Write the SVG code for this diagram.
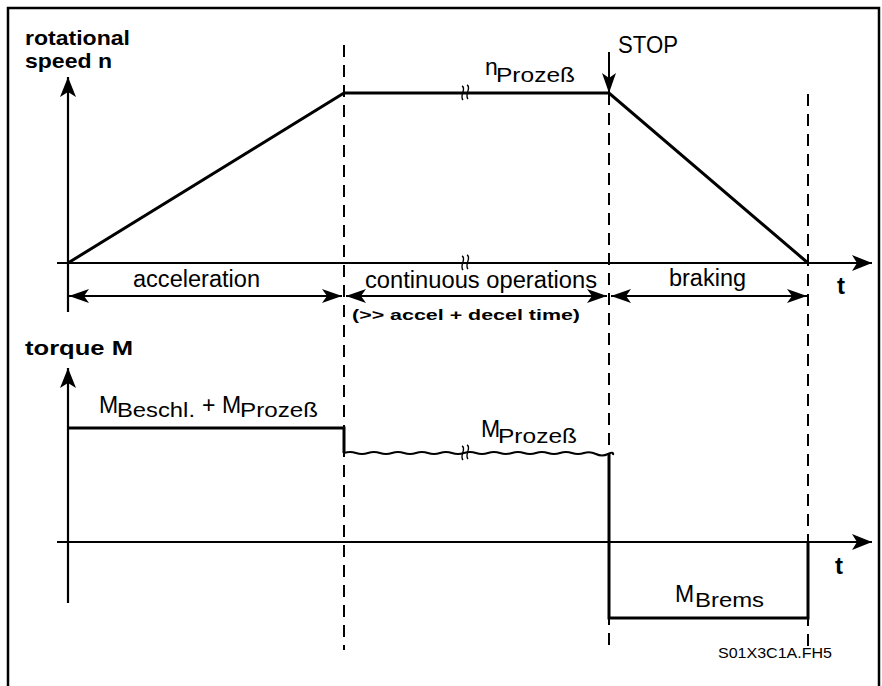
<svg xmlns="http://www.w3.org/2000/svg" width="882" height="686" viewBox="0 0 882 686">
<style>
text{font-family:"Liberation Sans",Arial,Helvetica,sans-serif;fill:#000}
.b{font-weight:bold}
.lbl{font-size:23px}
.sub{font-size:21px}
.ax{stroke:#000;stroke-width:2.2;fill:none}
.crv{stroke:#000;stroke-width:3;fill:none}
.dsh{stroke:#000;stroke-width:2;fill:none;stroke-dasharray:12 8}
.dim{stroke:#000;stroke-width:2;fill:none}
.brk{stroke:#000;stroke-width:1.4;fill:none}
</style>
<defs>
<marker id="ah" markerUnits="userSpaceOnUse" markerWidth="22" markerHeight="18" refX="20" refY="8" orient="auto-start-reverse">
<path d="M0,0 L20,8 L0,16 L5,8 z" fill="#000"/>
</marker>
<marker id="dh" markerUnits="userSpaceOnUse" markerWidth="22" markerHeight="16" refX="20" refY="7" orient="auto-start-reverse">
<path d="M0,0 L20,7 L0,14 L5,7 z" fill="#000"/>
</marker>
</defs>
<rect x="8" y="8" width="871" height="700" fill="#fff" stroke="#000" stroke-width="2.5"/>

<g id="grid">
<path class="dsh" d="M344,45 V650"/>
<path class="dsh" d="M609,93 V650"/>
<path class="dsh" d="M808,94 V650"/>
</g>

<g id="connectors">
<line class="ax" x1="68" y1="312" x2="68" y2="77" marker-end="url(#ah)"/>
<line class="ax" x1="57" y1="263" x2="872" y2="263" marker-end="url(#ah)"/>
<line class="ax" x1="68" y1="603" x2="68" y2="368" marker-end="url(#ah)"/>
<line class="ax" x1="57" y1="542" x2="872" y2="542" marker-end="url(#ah)"/>
<path class="crv" d="M68,263 L344,93 L609,93 L808,263" stroke-width="2.6"/>
<line class="dim" x1="609" y1="52" x2="609" y2="93" marker-end="url(#dh)"/>
<line class="dim" x1="69" y1="296" x2="342" y2="296" marker-start="url(#dh)" marker-end="url(#dh)"/>
<line class="dim" x1="346" y1="296" x2="607" y2="296" marker-start="url(#dh)" marker-end="url(#dh)"/>
<line class="dim" x1="611" y1="296" x2="807" y2="296" marker-start="url(#dh)" marker-end="url(#dh)"/>
<path class="crv" d="M68,428 L344,428 L344,453"/>
<path d="M344,453 q6,-2 12,0 t12,0 t12,0 t12,0 t12,0 t12,0 t12,0 t12,0 t12,0 t12,0 t12,0 t12,0 t12,0 t12,0 t12,0 t12,0 t12,0 t12,0 t12,0 t12,0 t12,1 t12,0 t5,1" stroke="#000" stroke-width="2" fill="none"/>
<path class="crv" d="M609,454 L609,618 L808,618 L808,542"/>
<path class="brk" d="M462,86 c5,2 -3,10 1,14 M467,85 c5,2 -3,10 1,14"/>
<path class="brk" d="M462,256 c5,2 -3,10 1,14 M467,255 c5,2 -3,10 1,14"/>
<path class="brk" d="M462,446 c5,2 -3,10 1,14 M467,445 c5,2 -3,10 1,14"/>
</g>

<g id="label-speed">
<text class="b" x="25" y="45" font-size="21" textLength="105" lengthAdjust="spacingAndGlyphs">rotational</text>
<text class="b" x="25" y="68" font-size="21" textLength="87" lengthAdjust="spacingAndGlyphs">speed n</text>
</g>
<g id="label-torque">
<text class="b" x="25" y="355" font-size="21" textLength="108" lengthAdjust="spacingAndGlyphs">torque M</text>
</g>
<g id="label-t1"><text class="b" x="837" y="294" font-size="24">t</text></g>
<g id="label-t2"><text class="b" x="835" y="574" font-size="24">t</text></g>
<g id="label-stop"><text class="lbl" x="618" y="53" textLength="60" lengthAdjust="spacingAndGlyphs">STOP</text></g>
<g id="label-nprozess">
<text><tspan class="lbl" x="485" y="75">n</tspan><tspan class="sub" x="496" y="82" textLength="79" lengthAdjust="spacingAndGlyphs">Prozeß</tspan></text>
</g>
<g id="label-accel"><text class="lbl" x="133" y="287" textLength="127" lengthAdjust="spacingAndGlyphs">acceleration</text></g>
<g id="label-cont"><text class="lbl" x="365" y="288" textLength="232" lengthAdjust="spacingAndGlyphs">continuous operations</text></g>
<g id="label-note"><text class="b" x="352" y="320" font-size="15" textLength="228" lengthAdjust="spacingAndGlyphs">(&gt;&gt; accel + decel time)</text></g>
<g id="label-braking"><text class="lbl" x="669" y="286" textLength="77" lengthAdjust="spacingAndGlyphs">braking</text></g>
<g id="label-mbeschl">
<text><tspan class="lbl" x="99" y="413">M</tspan><tspan class="sub" x="117" y="417" textLength="78" lengthAdjust="spacingAndGlyphs">Beschl.</tspan><tspan class="lbl" x="202" y="413">+</tspan><tspan class="lbl" x="222" y="413">M</tspan><tspan class="sub" x="240" y="417" textLength="78" lengthAdjust="spacingAndGlyphs">Prozeß</tspan></text>
</g>
<g id="label-mprozess">
<text><tspan class="lbl" x="481" y="437">M</tspan><tspan class="sub" x="498" y="443" textLength="79" lengthAdjust="spacingAndGlyphs">Prozeß</tspan></text>
</g>
<g id="label-mbrems">
<text><tspan class="lbl" x="675" y="602">M</tspan><tspan class="sub" x="695" y="607" textLength="69" lengthAdjust="spacingAndGlyphs">Brems</tspan></text>
</g>
<g id="label-file"><text x="718" y="658" font-size="15" textLength="114" lengthAdjust="spacingAndGlyphs">S01X3C1A.FH5</text></g>
</svg>
